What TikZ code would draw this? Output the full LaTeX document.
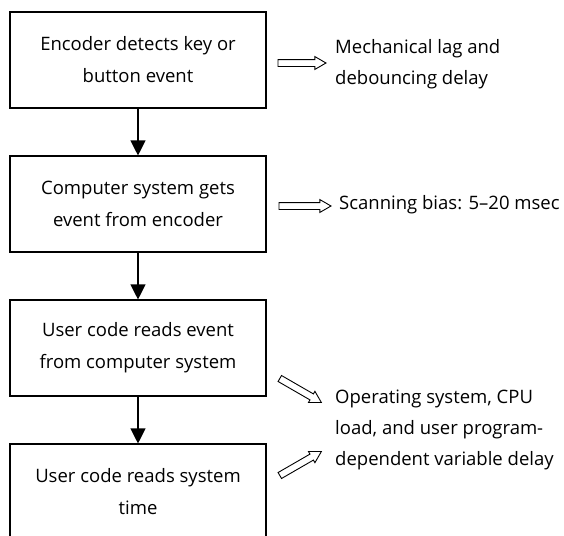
\documentclass[tikz,border=0pt]{standalone}
\usepackage{fontspec}
\setmainfont{Open Sans}
\usetikzlibrary{arrows.meta,shapes.arrows}

\begin{document}
\begin{tikzpicture}[x=1pt,y=-1pt,
    box/.style={draw,line width=1.1pt,minimum width=256pt,minimum height=96pt,
      align=center,inner sep=0pt,font=\fontsize{18.5}{32}\selectfont},
    lbl/.style={anchor=west,align=left,inner sep=0pt,font=\fontsize{18.5}{31}\selectfont},
    flow/.style={line width=1.1pt,-{Triangle[length=15pt,width=15pt]}},
    hollow/.style={single arrow,draw,line width=0.9pt,inner sep=3pt,
      single arrow head extend=3pt,single arrow tip angle=60}]
  \useasboundingbox (0,0) rectangle (564,535);
  % the four steps
  \node[box] (enc) at (138,60) {Encoder detects key or\\button event};
  \node[box] (sys) at (138,204) {Computer system gets\\event from encoder};
  \node[box] (usr) at (138,348) {User code reads event\\from computer system};
  \node[box] (tim) at (138,492) {User code reads system\\time};
  \foreach \a/\b in {enc/sys,sys/usr,usr/tim}
    \draw[flow] (\a.south) -- (\b.north);
  % delays
  \node[lbl] (mech) at (335,64) {Mechanical lag and\\debouncing delay};
  \node[lbl] (scan) at (339,205) {Scanning bias: 5--20 msec};
  \node[lbl] (os) at (335,430) {Operating system, CPU\\load, and user program-\\dependent variable delay};
  \node[hollow,minimum height=48pt] (d1) at (299,63) {};
  \node[hollow,minimum height=52pt] (d2) at (302,206) {};
  \node[hollow,minimum height=48pt,rotate=-30] (d3) at (298,389) {};
  \node[hollow,minimum height=48pt,rotate=30] (d4) at (298,465) {};
\end{tikzpicture}
\end{document}
